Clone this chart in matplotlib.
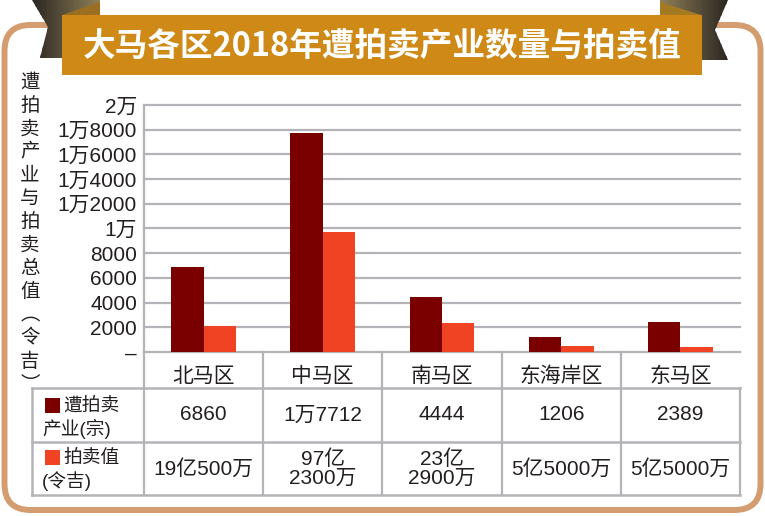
import numpy as np
import matplotlib
matplotlib.use("Agg")
import matplotlib.pyplot as plt
from matplotlib import transforms
from matplotlib.colors import LinearSegmentedColormap
from matplotlib.patches import FancyBboxPatch, Polygon, Rectangle

plt.rcParams["font.family"] = ["Liberation Sans", "Noto Sans CJK SC"]

# data
regions = ["北马区", "中马区", "南马区", "东海岸区", "东马区"]
auctioned = [6860, 17712, 4444, 1206, 2389]          # 遭拍卖产业(宗)
value_bars = [2100, 9723, 2329, 480, 370]            # 拍卖值, bar heights (百万令吉)
auctioned_text = ["6860", "1万7712", "4444", "1206", "2389"]
value_text = ["19亿500万", "97亿\n2300万", "23亿\n2900万", "5亿5000万", "5亿5000万"]
yticks = list(range(0, 20001, 2000))
ytick_labels = ["–", "2000", "4000", "6000", "8000", "1万",
                "1万2000", "1万4000", "1万6000", "1万8000", "2万"]

DARK = "#7A0000"
ORANGE = "#EF4323"
GRID = "#B4B4B8"
TXT = "#231F20"

W, H = 765, 516
fig = plt.figure(figsize=(W / 100, H / 100), dpi=100)

# background layer in pixel coordinates
bg = fig.add_axes([0, 0, 1, 1])
bg.axis("off")
bg.set_xlim(0, W)
bg.set_ylim(H, 0)
bg.set_autoscale_on(False)

frame = FancyBboxPatch((4.5, 25), 756, 485, boxstyle="round,pad=0,rounding_size=26",
                       fc="white", ec="#D49D70", lw=4.3, zorder=1)
bg.add_patch(frame)

# ribbon ends behind the title banner, shaded with thin strips
rib_cmap = LinearSegmentedColormap.from_list("rib", ["#2A2621", "#908058"])
left_pts = [(32, 0), (100, 0), (100, 58), (40, 58), (48, 27)]
right_pts = [(660, 0), (728, 0), (715, 30), (728, 60), (660, 60)]
for pts, flip in [(left_pts, False), (right_pts, True)]:
    poly = Polygon(pts, closed=True, fc="none", ec="none", zorder=2)
    bg.add_patch(poly)
    xs = [p[0] for p in pts]
    x0, x1 = min(xs), max(xs)
    n = 40
    dx = (x1 - x0) / n
    for i in range(n):
        t = (i + 0.5) / n
        c = rib_cmap(1 - t if flip else t)
        r = Rectangle((x0 + i * dx, 0), dx + 0.6, 62, fc=c, ec="none", zorder=2)
        bg.add_patch(r)
        r.set_clip_path(poly)
bg.add_patch(Polygon([(62, 15), (100, 2), (100, 15)], fc="#9C6E22", ec="none", zorder=2.5))
bg.add_patch(Polygon([(660, 2), (701, 15), (660, 15)], fc="#A47A22", ec="none", zorder=2.5))

bg.add_patch(Rectangle((62, 15), 640, 60, fc="#CF8916", ec="none", zorder=3))
bg.text(382, 46, "大马各区2018年遭拍卖产业数量与拍卖值", ha="center", va="center",
        color="white", fontsize=23.5, fontweight="black", family="Noto Sans CJK SC", zorder=4)

# vertical axis title
bg.text(30, 72, "\n".join("遭拍卖产业与拍卖总值︵令吉︶"), ha="center", va="top",
        fontsize=14, family="Noto Sans CJK SC", color=TXT, linespacing=1.14, zorder=4)

# chart
ax = fig.add_axes([144 / W, 1 - 352 / H, (740 - 144) / W, (352 - 105) / H])
ax.set_facecolor("none")
x = np.arange(len(regions))
w = 0.272
ax.bar(x - w / 2, auctioned, w, color=DARK, zorder=3)
ax.bar(x + w / 2, value_bars, w, color=ORANGE, zorder=3)

ax.set_xlim(-0.5, 4.5)
ax.set_ylim(0, 20000)
ax.set_yticks(yticks, ytick_labels)
ax.set_xticks(x, regions)
ax.tick_params(axis="y", length=0, pad=5, labelsize=15, colors=TXT)
ax.tick_params(axis="x", length=0, pad=9, labelsize=15, colors=TXT)
for lab in ax.get_xticklabels():
    lab.set_family("Noto Sans CJK SC")
ax.yaxis.grid(True, color=GRID, lw=1.6)
for gl in ax.get_ygridlines():
    gl.set_clip_on(False)
ax.set_axisbelow(True)
for s in ["top", "right", "bottom"]:
    ax.spines[s].set_visible(False)
ax.spines["left"].set_color(GRID)
ax.spines["left"].set_linewidth(1.6)

# category row and table, x from chart data, y in pixels
blend = transforms.blended_transform_factory(ax.transData, bg.transData)
for b in np.arange(-0.5, 4.6, 1.0):
    top = 352 if b < 4 else 388
    bg.plot([b, b], [top, 495], color=GRID, lw=1.6, transform=blend, zorder=2)
bg.plot([32, 740], [388, 388], color=GRID, lw=1.8, zorder=2)
bg.plot([32, 740], [442, 442], color=GRID, lw=1.8, zorder=2)
bg.plot([32, 740], [495, 495], color=GRID, lw=1.8, zorder=2)
bg.plot([32, 32], [388, 495], color=GRID, lw=1.8, zorder=2)

bg.add_patch(Rectangle((45, 398), 15, 15, fc=DARK, ec="none", zorder=3))
bg.add_patch(Rectangle((45, 450), 15, 15, fc=ORANGE, ec="none", zorder=3))
bg.text(63, 406, "遭拍卖", ha="left", va="center", fontsize=13.5, color=TXT, zorder=4)
bg.text(42, 429, "产业(宗)", ha="left", va="center", fontsize=13.5, color=TXT, zorder=4)
bg.text(63, 458, "拍卖值", ha="left", va="center", fontsize=13.5, color=TXT, zorder=4)
bg.text(42, 481, "(令吉)", ha="left", va="center", fontsize=13.5, color=TXT, zorder=4)

for i, t in enumerate(auctioned_text):
    bg.text(i, 415, t, ha="center", va="center", fontsize=15, color=TXT,
            transform=blend, zorder=4)
for i, t in enumerate(value_text):
    bg.text(i, 469, t, ha="center", va="center", fontsize=15, color=TXT,
            linespacing=1.0, transform=blend, zorder=4)

bg.set_xlim(0, W)
bg.set_ylim(H, 0)
fig.savefig("out.png", dpi=100)
